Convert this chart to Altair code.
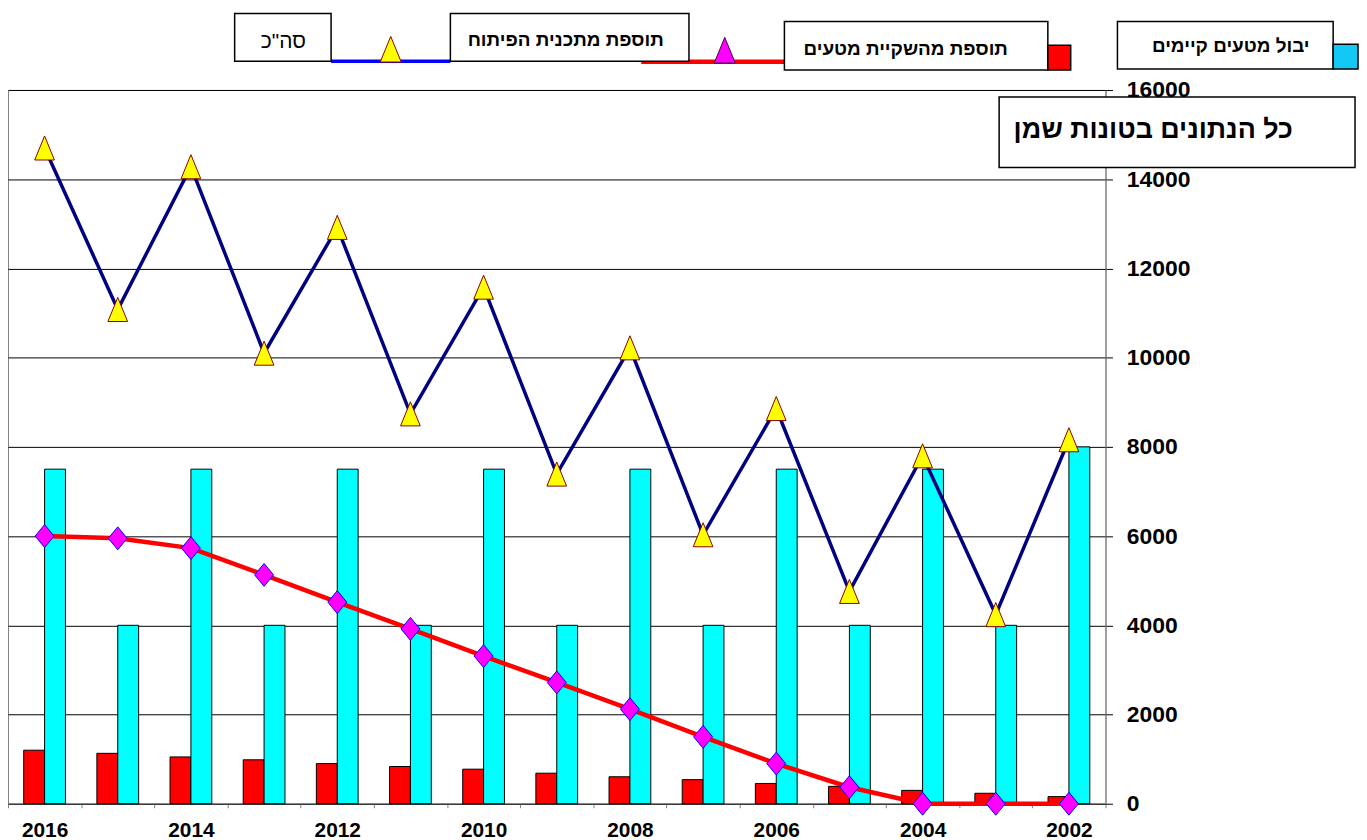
import altair as alt
import pandas as pd

# ---------------- data ----------------
years = ["2016", "2015", "2014", "2013", "2012", "2011", "2010", "2009",
         "2008", "2007", "2006", "2005", "2004", "2003", "2002"]
existing_yield = [7500, 4000, 7500, 4000, 7500, 4000, 7500, 4000,
                  7500, 4000, 7500, 4000, 7500, 4000, 8000]
irrigation_add = [1200, 1130, 1050, 985, 900, 835, 775, 685,
                  605, 540, 455, 390, 300, 235, 160]
plan_add = [6000, 5950, 5730, 5130, 4520, 3920, 3310, 2720,
            2120, 1500, 900, 370, 0, 0, 0]
total = [14700, 11080, 14280, 10100, 12920, 8740, 11580, 7390,
         10220, 6030, 8860, 4760, 7800, 4240, 8160]
y_ticks = [0, 2000, 4000, 6000, 8000, 10000, 12000, 14000, 16000]

lbl_total = 'סה"כ'
lbl_plan = "תוספת מתכנית הפיתוח"
lbl_irr = "תוספת מהשקיית מטעים"
lbl_exist = "יבול מטעים קיימים"
note_text = "כל הנתונים בטונות שמן"

df = pd.DataFrame({
    "year": years,
    "existing": existing_yield,
    "irrigation": irrigation_add,
    "plan": plan_add,
    "total": total,
})

FONT = "Liberation Sans"
TRI = "M0,-1.1L-0.9,1.1L0.9,1.1Z"
DIAM = "M0,-1.15L0.95,0L0,1.15L-0.95,0Z"

x_enc = alt.X(
    "year:N", sort=years,
    scale=alt.Scale(paddingInner=0, paddingOuter=0),
    axis=alt.Axis(
        title=None, tickBand="extent", tickSize=4, tickColor="#808080",
        domainColor="#404040", labelAngle=0,
        labelExpr="(+datum.value) % 2 == 0 ? datum.label : ''",
        labelFont=FONT, labelFontSize=21, labelFontWeight="bold",
        labelColor="black", labelPadding=12,
    ),
)


def y_enc(field):
    return alt.Y(
        f"{field}:Q",
        scale=alt.Scale(domain=[0, 16000], nice=False),
        axis=alt.Axis(
            title=None, orient="right", values=y_ticks, format="d",
            grid=True, gridColor="#000000", gridWidth=1,
            domainColor="#808080", tickColor="#000000", tickSize=7,
            labelFont=FONT, labelFontSize=23, labelFontWeight="bold",
            labelColor="black", labelPadding=14,
        ),
    )


base = alt.Chart(df)

red_bars = base.mark_bar(width=21, xOffset=-10.5, color="#FF0000",
                         stroke="black", strokeWidth=1).encode(
    x=x_enc, y=y_enc("irrigation"))
cyan_bars = base.mark_bar(width=21, xOffset=10.5, color="#00FFFF",
                          stroke="black", strokeWidth=1).encode(
    x=x_enc, y=y_enc("existing"))
navy_line = base.mark_line(color="#000080", strokeWidth=3.5).encode(
    x=x_enc, y=y_enc("total"))
triangles = base.mark_point(shape=TRI, size=484, filled=True, fill="#FFFF00",
                            stroke="#8B0000", strokeWidth=1, opacity=1).encode(
    x=x_enc, y=y_enc("total"))
red_line = base.mark_line(color="#FF0000", strokeWidth=4.5).encode(
    x=x_enc, y=y_enc("plan"))
diamonds = base.mark_point(shape=DIAM, size=400, filled=True, fill="#FF00FF",
                           stroke="#0000FF", strokeWidth=1, opacity=1).encode(
    x=x_enc, y=y_enc("plan"))

# ---------------- decorations (legend boxes, note) ----------------
deco = alt.Chart(pd.DataFrame({"a": [0]}))
OX, OY = 8, 88  # page position of plot origin


def rect(x1, y1, x2, y2, fill="white", stroke="black", sw=1.5):
    return deco.mark_rect(fill=fill, stroke=stroke, strokeWidth=sw).encode(
        x=alt.value(x1 - OX), x2=alt.value(x2 - OX),
        y=alt.value(y1 - OY), y2=alt.value(y2 - OY))


def hline(x1, x2, y, color, sw):
    return deco.mark_rule(color=color, strokeWidth=sw).encode(
        x=alt.value(x1 - OX), x2=alt.value(x2 - OX), y=alt.value(y - OY))


def label(txt, cx, cy, size, weight="bold", font=FONT):
    return deco.mark_text(text=txt, font=font, fontSize=size, fontWeight=weight,
                          align="center", baseline="middle", color="black").encode(
        x=alt.value(cx - OX), y=alt.value(cy - OY))


def marker(shape, cx, cy, size, fill, stroke):
    return deco.mark_point(shape=shape, size=size, filled=True, fill=fill,
                           stroke=stroke, strokeWidth=1, opacity=1).encode(
        x=alt.value(cx - OX), y=alt.value(cy - OY))


decos = [
    hline(333, 453, 59, "#0000FF", 3.5),
    hline(645, 789, 59.5, "#FF0000", 4.5),
    rect(236, 11, 333, 59),
    rect(453, 11, 693, 59),
    rect(789, 19, 1054, 68),
    rect(1124, 19, 1341, 67),
    rect(1054, 43, 1077, 68, fill="#FF0000", sw=1.5),
    rect(1341, 42, 1366, 67, fill="#14C8F5", sw=1.5),
    marker(TRI, 393, 47, 550, "#FFFF00", "#8B0000"),
    marker(TRI, 729, 48, 550, "#FF00FF", "#400040"),
    label(lbl_total, 285, 40, 21, weight="normal"),
    label(lbl_plan, 569, 38, 19),
    label(lbl_irr, 911, 47, 19),
    label(lbl_exist, 1238, 44, 19),
    rect(1005, 95, 1363, 166),
    label(note_text, 1160, 128, 27),
]

chart = alt.layer(
    red_bars, cyan_bars, navy_line, triangles, red_line, diamonds, *decos
).properties(
    width=1104, height=718,
    autosize=alt.AutoSizeParams(type="none"),
    padding={"left": 0, "top": 80, "right": 255, "bottom": 34},
    background="white",
).configure_view(stroke="#808080", strokeWidth=1)

chart.save("out.html", embed_options={"renderer": "svg", "actions": False})
